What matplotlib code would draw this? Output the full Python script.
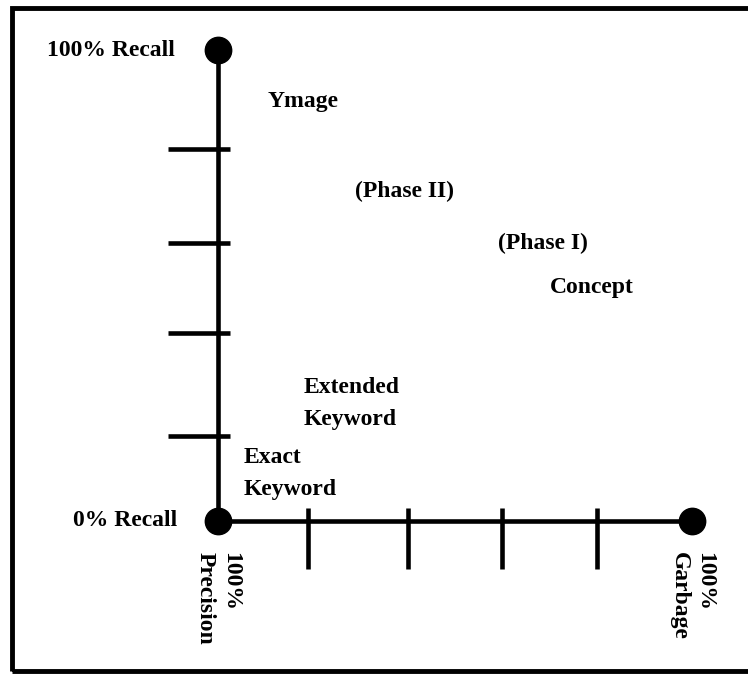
import matplotlib
matplotlib.use("Agg")
import matplotlib.pyplot as plt
from matplotlib.patches import Rectangle

# Axis ticks (fraction of the full scale)
X_TICKS = [0.19, 0.40, 0.60, 0.80]
Y_TICKS = [0.18, 0.40, 0.59, 0.79]

# Technique labels and where they sit (precision->garbage, recall)
LABELS = ["Ymage", "(Phase II)", "(Phase I)", "Concept",
          "Extended\nKeyword", "Exact\nKeyword"]
LABEL_X = [0.105, 0.29, 0.59, 0.70, 0.18, 0.055]
LABEL_Y = [0.89, 0.70, 0.59, 0.495, 0.25, 0.10]

END_LABELS = {
    "top": "100% Recall",
    "origin": "0% Recall",
    "x0": "100%\nPrecision",
    "x1": "100%\nGarbage",
}

FONT = dict(family="Liberation Serif", weight="bold", fontsize=17)

fig = plt.figure(figsize=(7.48, 6.74), dpi=100)
W, H = 748, 674

# outer frame (right edge runs off the picture)
fig.patches.append(Rectangle((12 / W, 3 / H), 760 / W, 663 / H,
                             transform=fig.transFigure, fill=False,
                             edgecolor="black", linewidth=3.5))

ax = fig.add_axes([218 / W, (H - 521) / H, 474 / W, 471 / H])
ax.set_xlim(0, 1)
ax.set_ylim(0, 1)
ax.axis("off")

lw = 3.3
ax.plot([0, 0], [0, 1], color="black", lw=lw, clip_on=False, solid_capstyle="butt")
ax.plot([0, 1], [0, 0], color="black", lw=lw, clip_on=False, solid_capstyle="butt")
ax.plot([0, 0, 1], [1, 0, 0], "o", color="black", markersize=19, clip_on=False)

# ticks: y ticks stick out left, x ticks hang below
for y in Y_TICKS:
    ax.plot([-0.105, 0.025], [y, y], color="black", lw=lw, clip_on=False, solid_capstyle="butt")
for x in X_TICKS:
    ax.plot([x, x], [0.027, -0.102], color="black", lw=lw, clip_on=False, solid_capstyle="butt")

for txt, x, y in zip(LABELS, LABEL_X, LABEL_Y):
    ax.text(x, y, txt, ha="left", va="center", linespacing=1.7, **FONT)

ax.text(-0.09, 1.0, END_LABELS["top"], ha="right", va="center", **FONT)
ax.text(-0.085, 0.0, END_LABELS["origin"], ha="right", va="center", **FONT)
ax.text(0.0, -0.066, END_LABELS["x0"], ha="center", va="top", rotation=-90,
        linespacing=1.3, multialignment="left", **FONT)
ax.text(1.0, -0.066, END_LABELS["x1"], ha="center", va="top", rotation=-90,
        linespacing=1.3, multialignment="left", **FONT)

fig.savefig("out.png", dpi=100)
